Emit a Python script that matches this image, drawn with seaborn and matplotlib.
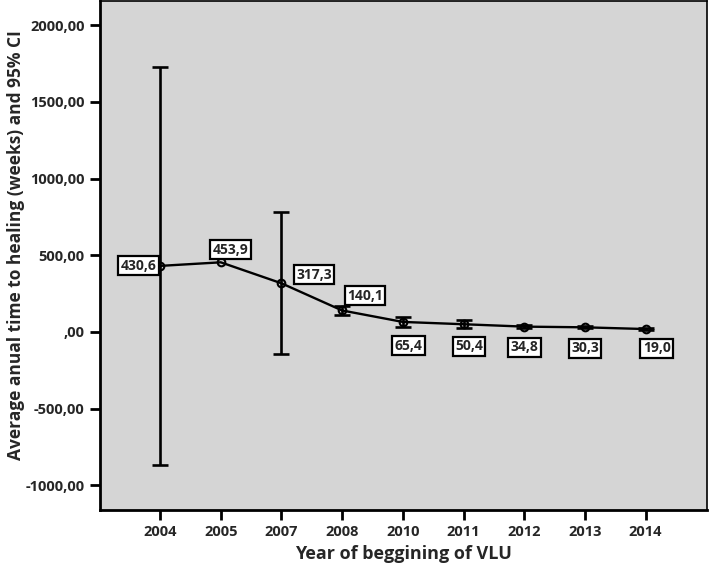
import numpy as np
import pandas as pd
import seaborn as sns
import matplotlib
matplotlib.use('Agg')
import matplotlib.pyplot as plt
from matplotlib.ticker import FuncFormatter

# data
years = ['2004', '2005', '2007', '2008', '2010', '2011', '2012', '2013', '2014']
means = [430.6, 453.9, 317.3, 140.1, 65.4, 50.4, 34.8, 30.3, 19.0]
ci_low = [-866, np.nan, -145, 108, 31, 25, 26, 23, 13]
ci_high = [1728, np.nan, 784, 172, 100, 77, 44, 38, 25]
value_labels = ['430,6', '453,9', '317,3', '140,1', '65,4', '50,4', '34,8', '30,3', '19,0']
# label offsets (points) relative to each mean point
label_dx = [-15.5, 7, 23.5, 16.5, 4, 4, 0, 0, 8]
label_dy = [0, 9, 6, 10.5, -17, -16, -15, -15, -14]

sns.set_theme(style='ticks')
plt.rcParams['font.family'] = ['Open Sans', 'DejaVu Sans']
plt.rcParams['font.weight'] = 'bold'

df = pd.DataFrame({'year': years, 'mean': means})

fig = plt.figure(figsize=(7.09, 5.66), dpi=100)
ax = fig.add_axes([0.141, 0.099, 0.856, 0.899])
ax.set_facecolor('#d5d5d5')

# confidence intervals
pos = np.arange(len(years))
m = np.array(means)
lo = np.array(ci_low)
hi = np.array(ci_high)
ok = ~np.isnan(lo)
ax.errorbar(pos[ok], m[ok], yerr=[m[ok] - lo[ok], hi[ok] - m[ok]], fmt='none',
            ecolor='black', elinewidth=1.9, capsize=6, capthick=1.9, zorder=2)

# mean line
sns.pointplot(data=df, x='year', y='mean', errorbar=None, color='black',
              markers='o', markersize=5.5, linewidth=1.7,
              markerfacecolor='none', markeredgewidth=1.5, ax=ax, zorder=3)

for i, txt in enumerate(value_labels):
    ax.annotate(txt, (pos[i], means[i]), xytext=(label_dx[i], label_dy[i]),
                textcoords='offset points', ha='center', va='center',
                fontsize=10, fontweight='bold', zorder=5,
                bbox=dict(boxstyle='square,pad=0.18', fc='white', ec='black', lw=1.6))

ax.set_xlim(-0.99, 9.01)
ax.set_ylim(-1160, 2156)
ax.set_yticks(np.arange(-1000, 2001, 500))


def comma_fmt(v, p):
    if v == 0:
        return ',00'
    return f'{v:.2f}'.replace('.', ',')


ax.yaxis.set_major_formatter(FuncFormatter(comma_fmt))
ax.tick_params(axis='both', length=7, width=2, color='black', labelsize=10.5,
               direction='out')
ax.tick_params(axis='y', pad=4)
ax.tick_params(axis='x', pad=4)
for lab in ax.get_xticklabels() + ax.get_yticklabels():
    lab.set_fontweight('bold')

for s in ['left', 'bottom']:
    ax.spines[s].set_linewidth(2)
for s in ['top', 'right']:
    ax.spines[s].set_linewidth(1.2)
    ax.spines[s].set_visible(True)
for s in ax.spines.values():
    s.set_color('black')

ax.set_xlabel('')
ax.set_ylabel('')
fig.text(0.0226, 0.567, 'Average anual time to healing (weeks) and 95% CI',
         rotation=90, ha='center', va='center', fontsize=12.5, fontweight='bold')
fig.text(0.569, 0.022, 'Year of beggining of VLU', ha='center', va='center',
         fontsize=13, fontweight='bold')

fig.savefig('out.png', dpi=100, facecolor='white')
